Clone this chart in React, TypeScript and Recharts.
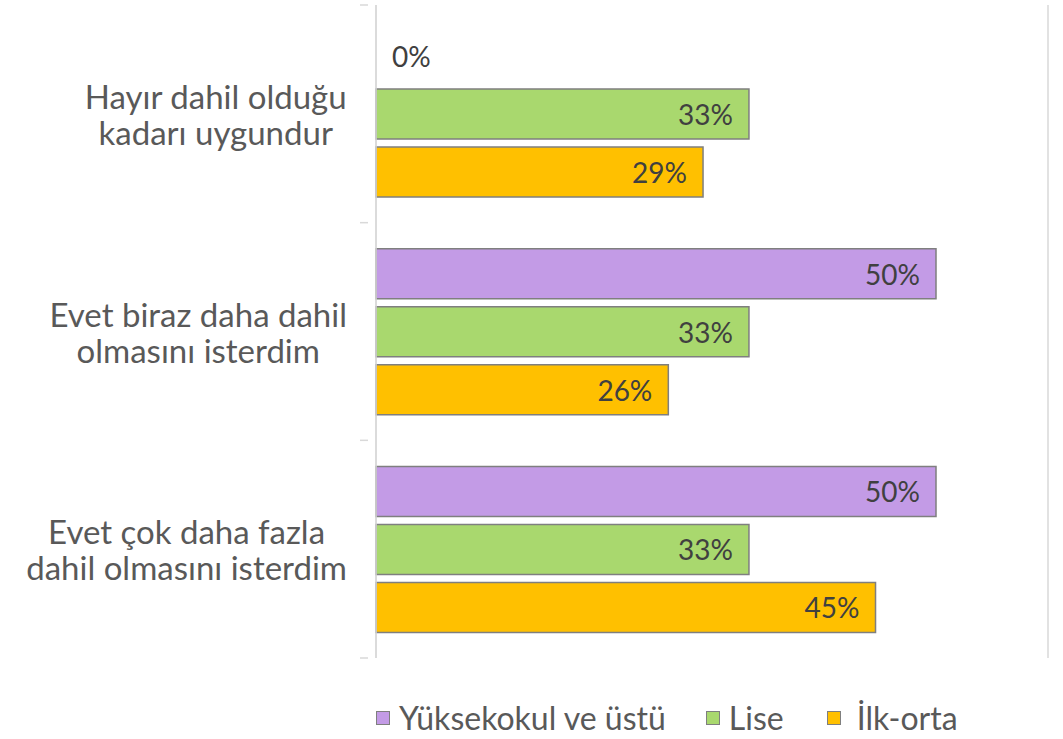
import { BarChart, Bar, XAxis, YAxis, CartesianGrid, Rectangle } from "recharts";

const categoryLines = [
	["Hayır dahil olduğu", "kadarı uygundur"],
	["Evet biraz daha dahil", "olmasını isterdim"],
	["Evet çok daha fazla", "dahil olmasını isterdim"],
];
const categories = categoryLines.map((l) => l.join(" "));

const yuksekokul = [0, 0.5, 0.5];
const lise = [0.333, 0.333, 0.333];
const ilkOrta = [0.292, 0.261, 0.446];

const xTicks = [0, 0.2, 0.4, 0.6];

const series = [
	{ key: "yuksekokul", name: "Yüksekokul ve üstü", color: "#C39BE6" },
	{ key: "lise", name: "Lise", color: "#A9D86E" },
	{ key: "ilkOrta", name: "İlk-orta", color: "#FFC000" },
];

const data = categories.map((c, i) => ({
	category: c,
	yuksekokul: yuksekokul[i],
	lise: lise[i],
	ilkOrta: ilkOrta[i],
}));

const FONT = "Lato, 'Noto Sans', sans-serif";
const CAT_SIZE = 33;

let ctx: CanvasRenderingContext2D | null = null;
const measure = (s: string) => {
	if (!ctx) ctx = document.createElement("canvas").getContext("2d");
	if (!ctx) return s.length * CAT_SIZE * 0.5;
	ctx.font = `${CAT_SIZE}px ${FONT}`;
	return ctx.measureText(s).width;
};

const CategoryTick = (props: any) => {
	const { x, y, payload, index } = props;
	const lines = categoryLines[index] || [payload.value];
	const half = payload.offset || 108.8;
	const right = x - 21;
	const w = Math.max(...lines.map(measure));
	const cx = right - w / 2;
	const lh = 36;
	const startY = y - ((lines.length - 1) * lh) / 2;
	return (
		<g>
			<line x1={x - 8} x2={x} y1={y - half} y2={y - half} stroke="#d9d9d9" strokeWidth={1.5} />
			{index === categories.length - 1 && (
				<line x1={x - 8} x2={x} y1={y + half} y2={y + half} stroke="#d9d9d9" strokeWidth={1.5} />
			)}
			<text
				x={cx}
				y={startY}
				textAnchor="middle"
				fill="#595959"
				fontSize={CAT_SIZE}
				fontFamily={FONT}
				dominantBaseline="central"
			>
				{lines.map((l, i) => (
					<tspan key={i} x={cx} dy={i === 0 ? 0 : lh}>
						{l}
					</tspan>
				))}
			</text>
		</g>
	);
};

// zero-length bars draw nothing but keep their label
const BarShape = (props: any) => {
	if (!props.value || props.width < 1) return <g />;
	return <Rectangle {...props} />;
};

const renderLabel = (props: any) => {
	const { x, y, width, height, value } = props;
	const v = Number(value) || 0;
	const pct = `${Math.round(v * 100)}%`;
	const zero = v === 0;
	return (
		<text
			x={zero ? x + 16 : x + width - 16}
			y={y + height / 2}
			textAnchor={zero ? "start" : "end"}
			dominantBaseline="central"
			fill="#404040"
			fontSize={28}
			fontFamily={FONT}
		>
			{pct}
		</text>
	);
};

const App = () => {
	return (
		<div style={{ position: "absolute", left: 0, top: 0, width: 1063, height: 739, background: "#fff" }}>
			<BarChart
				width={1063}
				height={739}
				data={data}
				layout="vertical"
				margin={{ top: 5, right: 15, bottom: 81, left: 0 }}
				barCategoryGap="12%"
				barGap={8}
			>
				<CartesianGrid horizontal={false} stroke="#d9d9d9" strokeWidth={1.5} />
				<XAxis
					type="number"
					domain={[0, 0.6]}
					ticks={xTicks}
					tick={false}
					axisLine={false}
					tickLine={false}
					height={0}
				/>
				<YAxis
					type="category"
					dataKey="category"
					width={376}
					tickLine={false}
					axisLine={{ stroke: "#d9d9d9", strokeWidth: 1.5 }}
					tick={<CategoryTick />}
					interval={0}
				/>
				{series.map((s) => (
					<Bar
						key={s.key}
						dataKey={s.key}
						name={s.name}
						fill={s.color}
						stroke="#7f7f7f"
						strokeWidth={1.5}
						isAnimationActive={false}
						minPointSize={(v: any) => (v === 0 ? 0.01 : 0)}
						shape={<BarShape />}
						label={renderLabel}
					/>
				))}
			</BarChart>
			<div
				style={{
					position: "absolute",
					left: 376,
					top: 698,
					display: "flex",
					alignItems: "center",
					fontFamily: FONT,
					fontSize: 32,
					color: "#595959",
				}}
			>
				{series.map((s, i) => (
					<div key={s.key} style={{ display: "flex", alignItems: "center", marginRight: i === 0 ? 40 : 43 }}>
						<span
							style={{
								display: "inline-block",
								width: 12,
								height: 12,
								background: s.color,
								border: "1.5px solid #7f7f7f",
								marginRight: i === 2 ? 16 : 9,
							}}
						/>
						<span>{s.name}</span>
					</div>
				))}
			</div>
		</div>
	);
};

export default App;
